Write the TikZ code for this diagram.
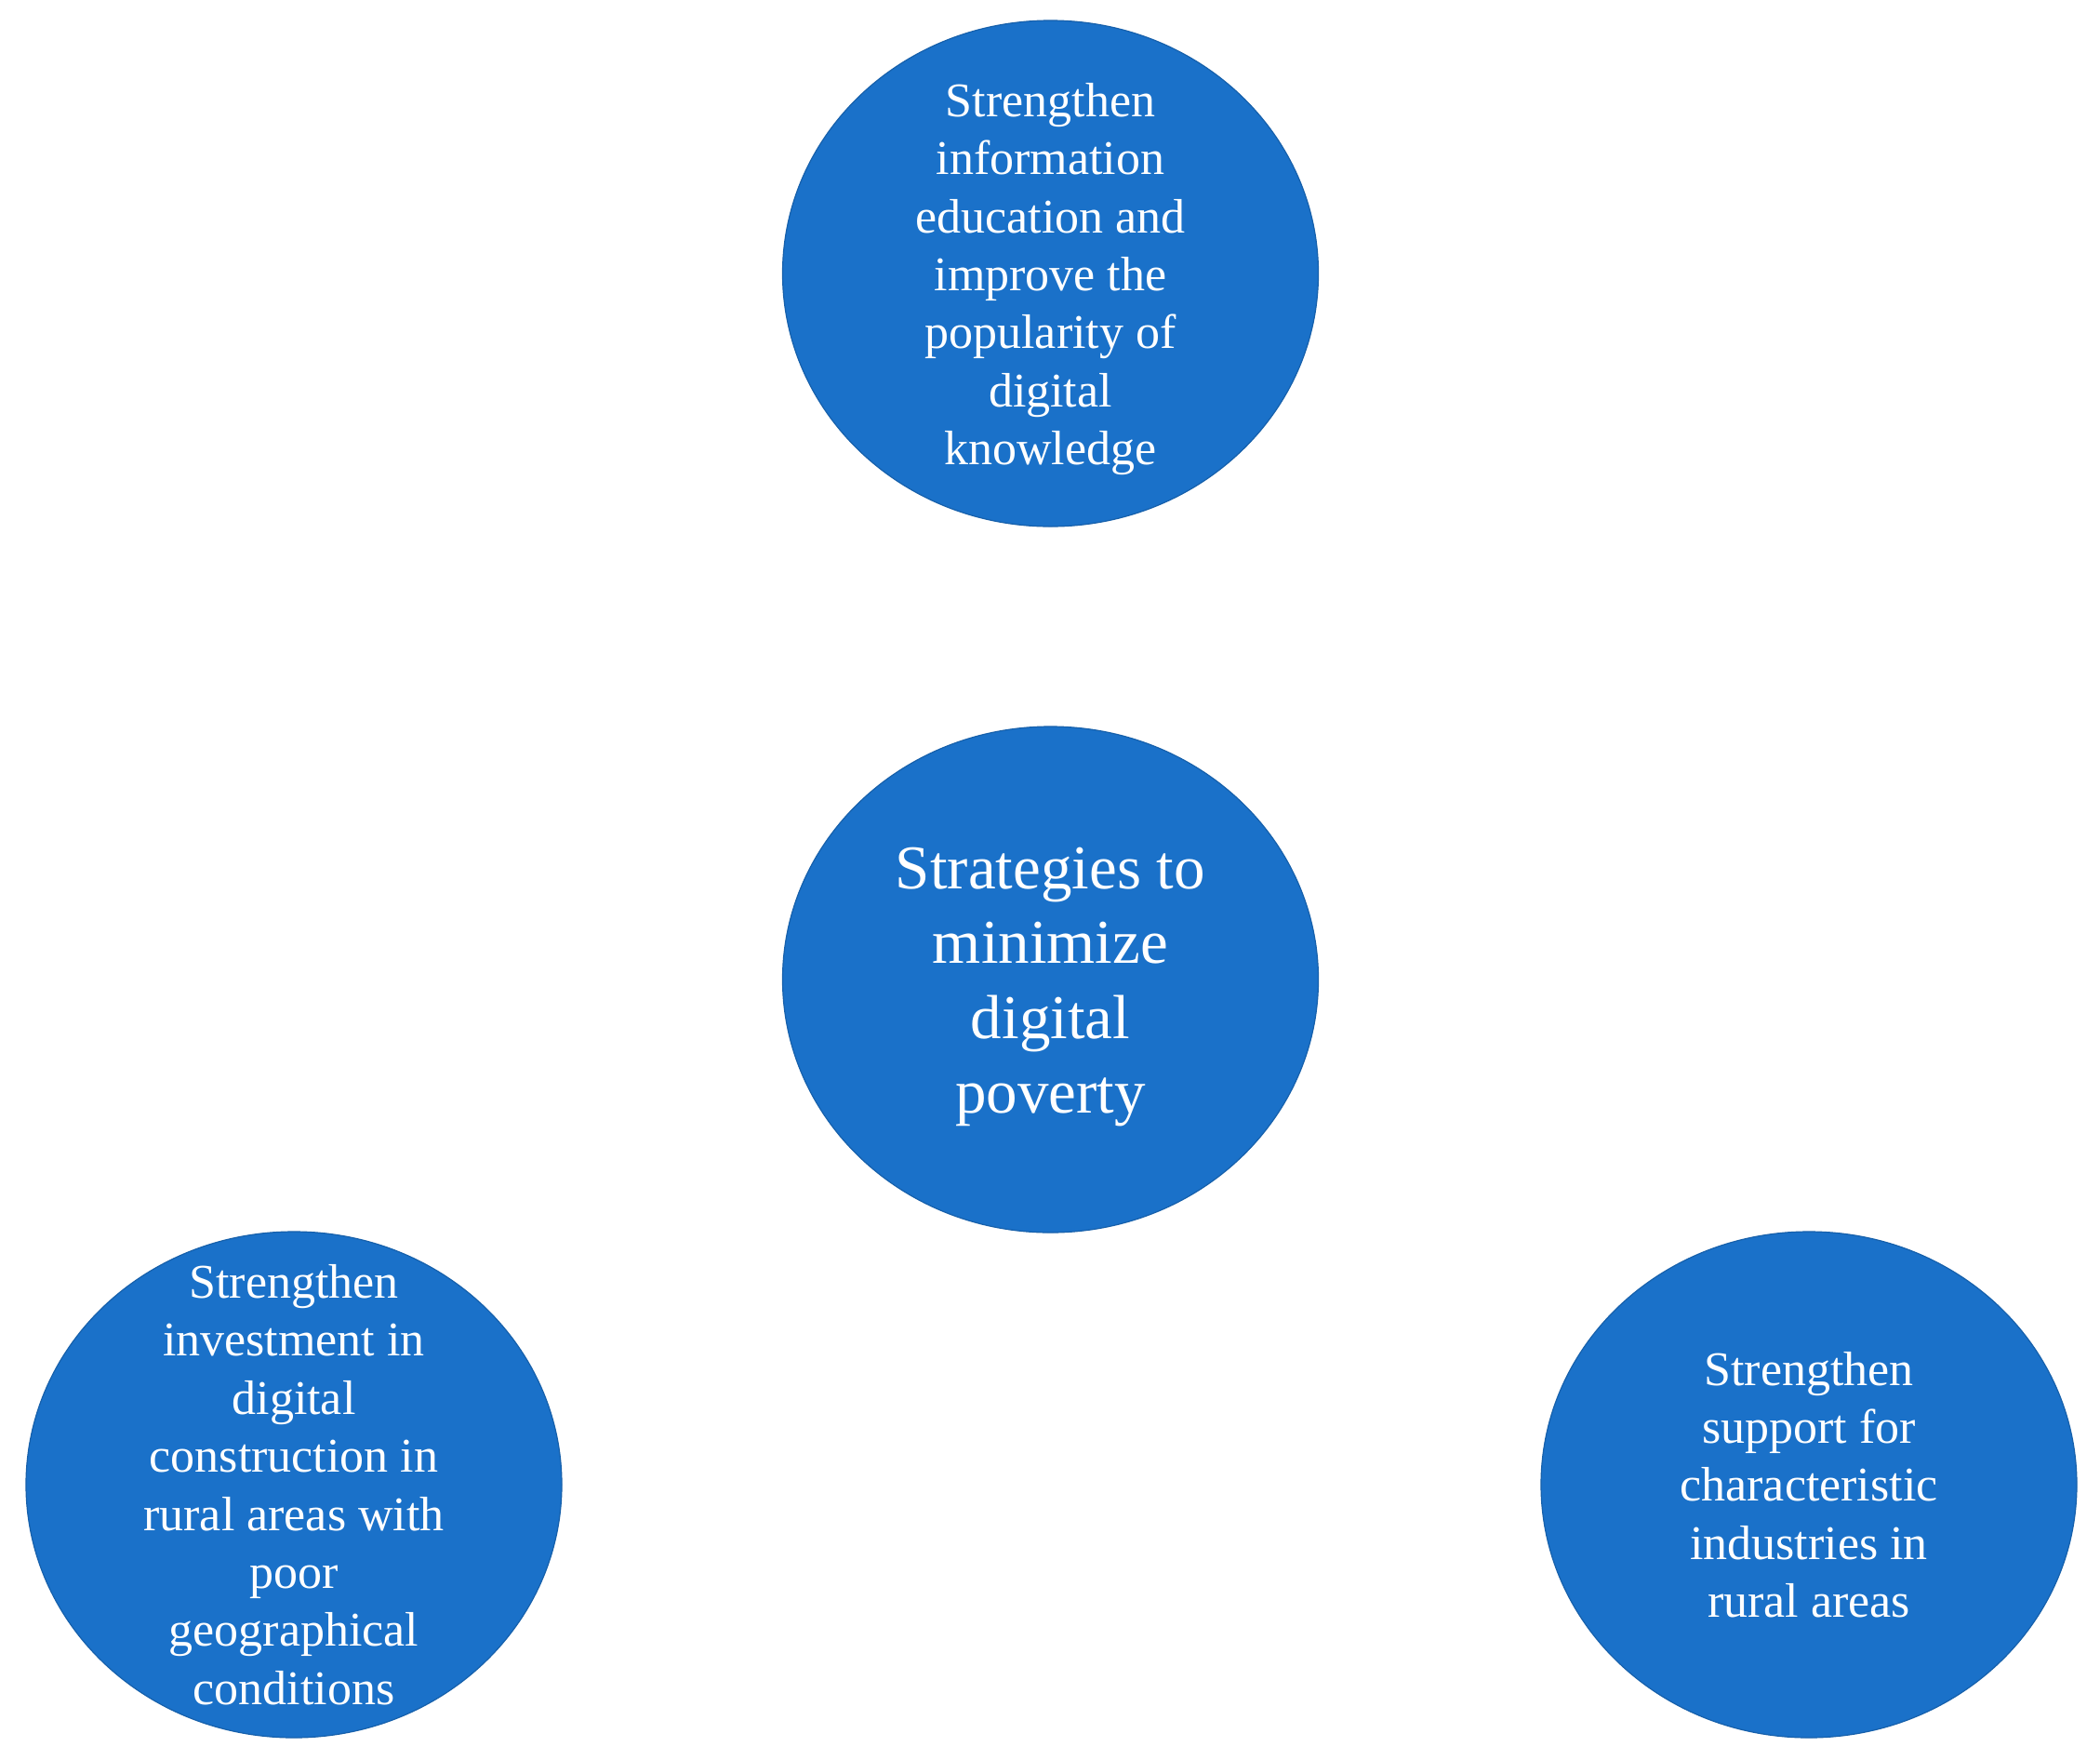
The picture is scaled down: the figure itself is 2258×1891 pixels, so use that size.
\documentclass[tikz,border=0pt]{standalone}
\usepackage{fontspec}
\setmainfont{Liberation Serif}
\usetikzlibrary{shapes.geometric}
\definecolor{cblue}{HTML}{1A71C9}
\begin{document}
\begin{tikzpicture}[x=0.5pt,y=-0.5pt,
  bubble/.style={ellipse, fill=cblue, draw=cblue!85!black, line width=0.6pt, inner sep=0pt,
    minimum width=288pt, minimum height=272pt},
  label text/.style={text=white, align=center, inner sep=0pt,
    font=\fontsize{26}{31.2}\selectfont},
  hub text/.style={label text, font=\fontsize{33.5}{40.3}\selectfont}]
\useasboundingbox (0,0) rectangle (2258,1891);
\node[bubble] (top) at (1129.5,294) {};
\node[bubble] (center) at (1129.5,1053) {};
\node[bubble] (bl) at (316,1596) {};
\node[bubble] (br) at (1945,1596) {};
\node[label text] (top-t) at ([yshift=-3pt]top.center) {Strengthen\\information\\education and\\improve the\\popularity of\\digital\\knowledge};
\node[hub text] (center-t) at ([yshift=-4pt]center.center) {Strategies to\\minimize\\digital\\poverty};
\node[label text] (bl-t) at (bl.center) {Strengthen\\investment in\\digital\\construction in\\rural areas with\\poor\\geographical\\conditions};
\node[label text] (br-t) at (br.center) {Strengthen\\support for\\characteristic\\industries in\\rural areas};
\end{tikzpicture}
\end{document}
